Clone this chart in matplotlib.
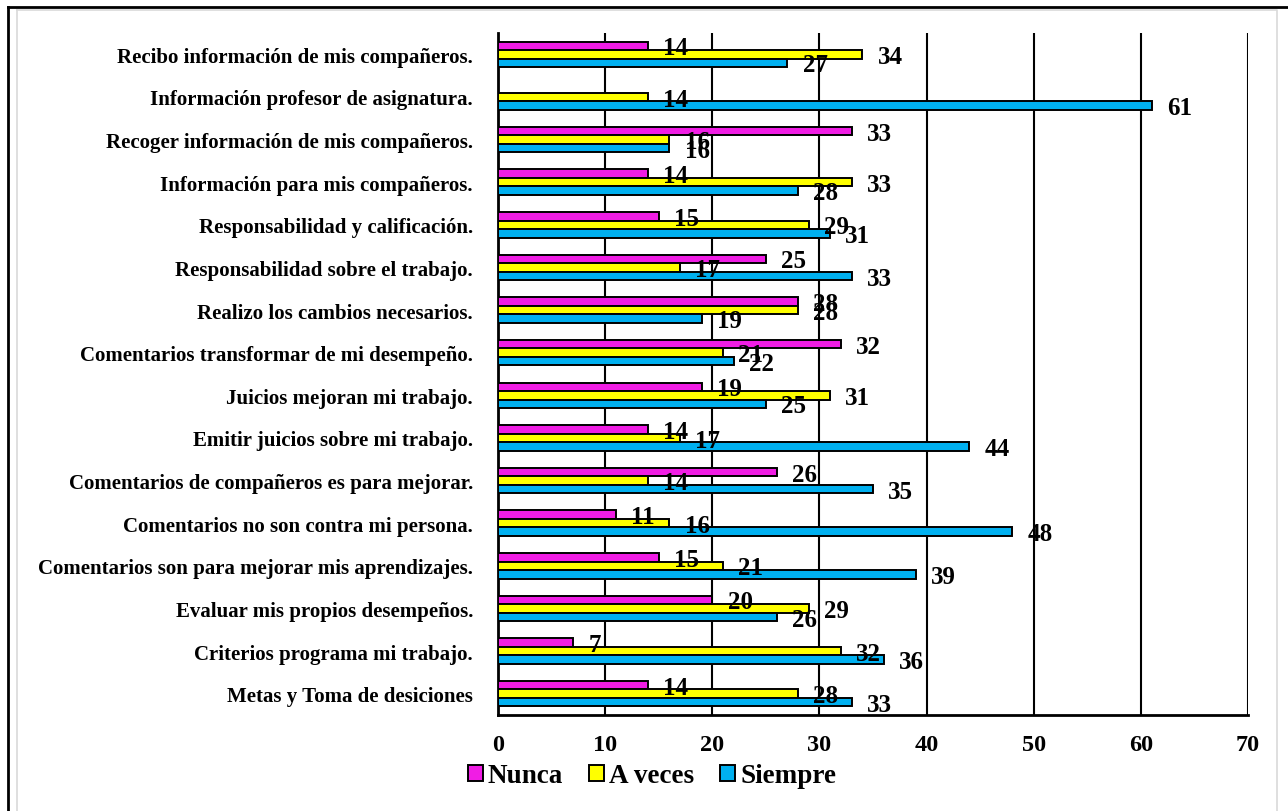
import matplotlib.pyplot as plt
import numpy as np
from matplotlib.lines import Line2D

categorias = [
    "Recibo información de mis compañeros.",
    "Información profesor de asignatura.",
    "Recoger información de mis compañeros.",
    "Información para mis compañeros.",
    "Responsabilidad y calificación.",
    "Responsabilidad sobre el trabajo.",
    "Realizo los cambios necesarios.",
    "Comentarios transformar de mi desempeño.",
    "Juicios mejoran mi trabajo.",
    "Emitir juicios sobre mi trabajo.",
    "Comentarios de compañeros es para mejorar.",
    "Comentarios no son contra mi persona.",
    "Comentarios son para mejorar mis aprendizajes.",
    "Evaluar mis propios desempeños.",
    "Criterios programa mi trabajo.",
    "Metas y Toma de desiciones",
]
nunca = [14, 0, 33, 14, 15, 25, 28, 32, 19, 14, 26, 11, 15, 20, 7, 14]
a_veces = [34, 14, 16, 33, 29, 17, 28, 21, 31, 17, 14, 16, 21, 29, 32, 28]
siempre = [27, 61, 16, 28, 31, 33, 19, 22, 25, 44, 35, 48, 39, 26, 36, 33]

series = [("Nunca", nunca, "#F01DE4"),
          ("A veces", a_veces, "#FFFF00"),
          ("Siempre", siempre, "#00B0F0")]

plt.rcParams["font.family"] = ["Liberation Serif", "DejaVu Serif"]
plt.rcParams["font.weight"] = "bold"

fig = plt.figure(figsize=(12.88, 8.12), dpi=100)
ax = fig.add_axes([498 / 1288, 1 - 716 / 812, 750 / 1288, 682 / 812])

y = np.arange(len(categorias))
h = 0.2
for i, (nombre, vals, color) in enumerate(series):
    pos = y + (i - 1) * h
    ax.barh(pos, vals, height=h, color=color, edgecolor="black", linewidth=1.4,
            label=nombre, zorder=3)
    for p, v in zip(pos, vals):
        if v == 0:
            continue
        ax.annotate(str(v), (v, p), xytext=(11, -1.5), textcoords="offset points",
                    ha="left", va="center", fontsize=18, fontweight="bold",
                    zorder=4)

ax.set_xlim(0, 70)
ax.set_xticks(range(0, 71, 10))
ax.set_ylim(len(categorias) - 0.5, -0.5)
ax.set_yticks(y)
ax.set_yticklabels(categorias, fontsize=15, fontweight="bold")
ax.tick_params(axis="y", length=0, pad=18)
ax.tick_params(axis="x", length=0, pad=14, labelsize=17.5)
for lab in ax.get_xticklabels():
    lab.set_fontweight("bold")
ax.grid(axis="x", color="black", linewidth=1.5, zorder=0)
for s in ["top", "right"]:
    ax.spines[s].set_visible(False)
for s in ["left", "bottom"]:
    ax.spines[s].set_linewidth(2)
    ax.spines[s].set_color("black")

fig.legend(loc="center", bbox_to_anchor=(652 / 1288, 1 - 777 / 812), ncol=3,
           frameon=False, handlelength=0.55, handleheight=0.55,
           handletextpad=0.2, columnspacing=0.95, prop={"weight": "bold", "size": 19.5})

# marco de la imagen
fig.add_artist(Line2D([8 / 1288, 1], [1 - 8 / 812, 1 - 8 / 812], color="black", linewidth=2))
fig.add_artist(Line2D([8 / 1288, 8 / 1288], [0, 1 - 8 / 812], color="black", linewidth=2))
fig.add_artist(Line2D([17 / 1288, 1277 / 1288, 1277 / 1288], [1 - 11 / 812, 1 - 11 / 812, 0],
                      color="#D9D9D9", linewidth=1.2))
fig.add_artist(Line2D([17 / 1288, 17 / 1288], [1 - 11 / 812, 0], color="#D9D9D9", linewidth=1.2))

fig.savefig("out.png", dpi=100)
